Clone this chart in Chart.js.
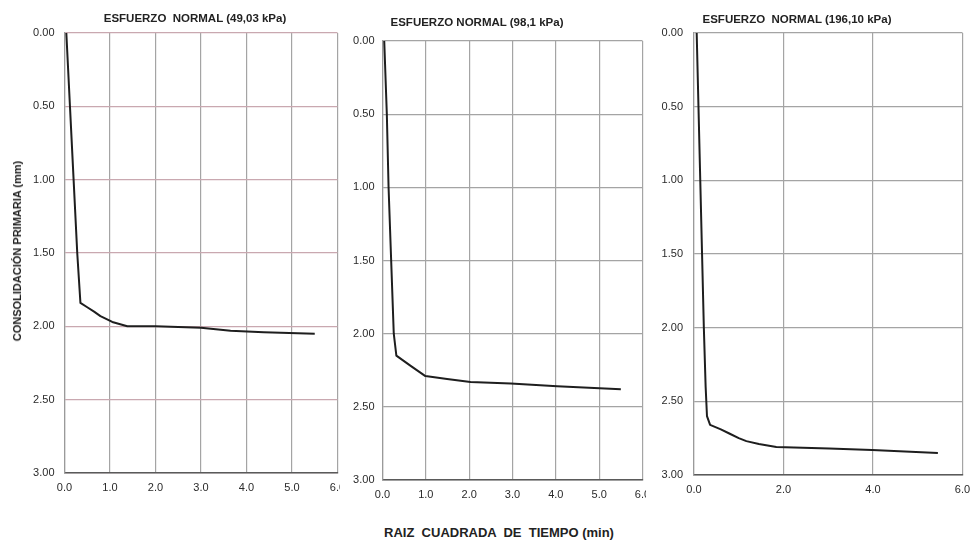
<!DOCTYPE html>
<html>
<head>
<meta charset="utf-8">
<script src="https://cdn.jsdelivr.net/npm/chart.js@4.4.0/dist/chart.umd.min.js"></script>
<style>
  body { margin: 0; background: #fff; width: 971px; height: 543px; position: relative; overflow: hidden;
         font-family: "Liberation Sans", Arial, sans-serif; }
  canvas { position: absolute; top: 0; }
  .lbl { position: absolute; font-weight: bold; color: #222; white-space: pre; transform: translate(-50%, -50%); }
</style>
</head>
<body>
<canvas id="p1" width="340" height="495" style="left:0px"></canvas>
<canvas id="p2" width="306" height="502" style="left:340px"></canvas>
<canvas id="p3" width="324" height="497" style="left:647px"></canvas>

<div class="lbl" style="left:195px;top:18px;font-size:11.5px">ESFUERZO  NORMAL (49,03 kPa)</div>
<div class="lbl" style="left:477px;top:22px;font-size:11.5px">ESFUERZO NORMAL (98,1 kPa)</div>
<div class="lbl" style="left:797px;top:19px;font-size:11.5px">ESFUERZO  NORMAL (196,10 kPa)</div>
<div class="lbl" style="left:17px;top:251px;font-size:11px;transform:translate(-50%,-50%) rotate(-90deg)">CONSOLIDACIÓN PRIMARIA (mm)</div>
<div class="lbl" style="left:499px;top:532px;font-size:13px">RAIZ  CUADRADA  DE  TIEMPO (min)</div>

<script>
// raiz cuadrada de tiempo (min) vs consolidacion primaria (mm)
const timeA = [0.04, 0.12, 0.2, 0.28, 0.35, 0.5, 0.65, 0.79, 1.05, 1.38, 2.0, 3.0, 3.65, 4.38, 5.5];
const consA = [0, 0.5, 1.0, 1.5, 1.84, 1.87, 1.9, 1.93, 1.97, 2.0, 2.0, 2.01, 2.03, 2.04, 2.05];

const timeB = [0.04, 0.1, 0.14, 0.2, 0.26, 0.32, 0.65, 0.99, 1.49, 2.03, 2.96, 4.03, 5.5];
const consB = [0, 0.5, 1.0, 1.5, 2.0, 2.15, 2.22, 2.29, 2.31, 2.33, 2.34, 2.36, 2.38];

const timeC = [0.06, 0.1, 0.14, 0.18, 0.22, 0.26, 0.29, 0.36, 0.6, 0.8, 1.0, 1.17, 1.45, 1.84, 3.02, 3.98, 5.45];
const consC = [0, 0.5, 1.0, 1.5, 2.0, 2.4, 2.6, 2.66, 2.69, 2.72, 2.75, 2.77, 2.79, 2.81, 2.82, 2.83, 2.85];

const yMin = 0, yMax = 3, yStep = 0.5;
const xMin = 0, xMax = 6;
const xStepAB = 1, xStepC = 2;

const FONT = '"Liberation Sans", Arial, sans-serif';

function makePanel(id, xs, ys, cfg) {
  const pts = xs.map((x, i) => ({ x: x, y: ys[i] }));
  return new Chart(document.getElementById(id), {
    type: 'scatter',
    data: {
      datasets: [{
        data: pts,
        showLine: true,
        borderColor: '#1e1e1e',
        borderWidth: 2,
        borderJoinStyle: 'round',
        pointRadius: 0,
        tension: 0
      }]
    },
    options: {
      responsive: false,
      animation: false,
      layout: { padding: { top: cfg.top, right: cfg.right, bottom: 0, left: 0 } },
      plugins: { legend: { display: false }, tooltip: { enabled: false } },
      scales: {
        x: {
          type: 'linear', min: xMin, max: xMax,
          grid: { color: '#a4a4a4', lineWidth: 1.2, drawTicks: false },
          border: { color: '#5a5a5a', width: 1.6 },
          ticks: {
            stepSize: cfg.xStep, padding: 8, color: '#2a2a2a',
            font: { family: FONT, size: 11 },
            callback: v => v.toFixed(1)
          },
          afterFit: s => { s.height = cfg.xh; s.paddingLeft = 0; s.paddingRight = 0; }
        },
        y: {
          type: 'linear', min: yMin, max: yMax, reverse: true,
          grid: { color: cfg.hgrid, lineWidth: 1.2, drawTicks: false },
          border: { color: '#9a9a9a', width: 1.2 },
          ticks: {
            stepSize: yStep, padding: cfg.ypad, color: '#2a2a2a',
            font: { family: FONT, size: 11 },
            callback: v => v.toFixed(2)
          },
          afterFit: s => { s.width = cfg.yw; s.paddingTop = 0; s.paddingBottom = 0; }
        }
      }
    }
  });
}

makePanel('p1', timeA, consA, { top: 33, right: 2.5, xh: 22, yw: 64.5, ypad: 10, xStep: xStepAB, hgrid: '#c9a8b0' });
makePanel('p2', timeB, consB, { top: 41, right: 3.5, xh: 22, yw: 42.5, ypad: 8, xStep: xStepAB, hgrid: '#a4a4a4' });
makePanel('p3', timeC, consC, { top: 33, right: 8.5, xh: 22, yw: 47, ypad: 11, xStep: xStepC, hgrid: '#a4a4a4' });
</script>
</body>
</html>
